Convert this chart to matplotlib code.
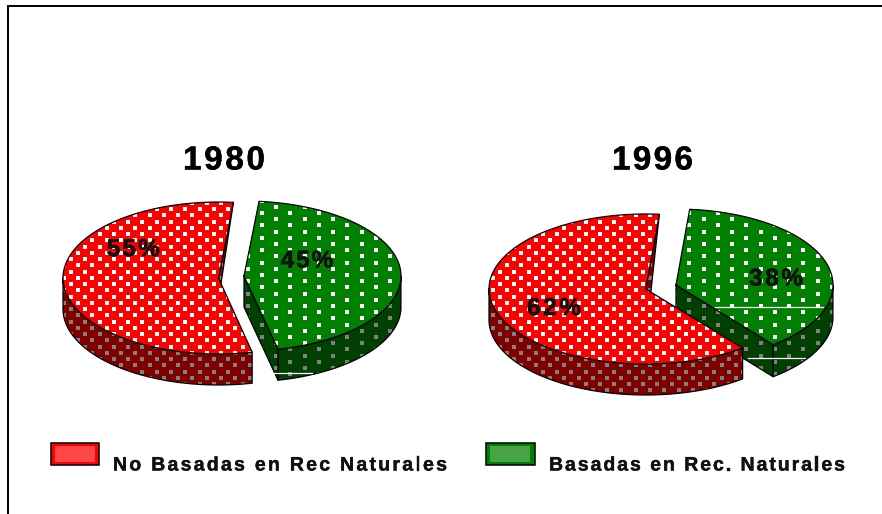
import numpy as np
import matplotlib
matplotlib.use("Agg")
import matplotlib.pyplot as plt
import matplotlib.patheffects as pe
from matplotlib.font_manager import findfont, get_font
from matplotlib.ft2font import LoadFlags
from matplotlib.path import Path
from matplotlib.patches import PathPatch, Rectangle
from matplotlib.text import Text
from matplotlib.transforms import Bbox, IdentityTransform

years = ["1980", "1996"]
categories = ["No Basadas en Rec Naturales", "Basadas en Rec. Naturales"]
red_share = [55, 62]
green_share = [45, 38]

FONT = "Liberation Sans"
RED, DRED = "#ff0000", "#800000"
GREEN, DGREEN = "#008000", "#004000"
GREY = "#808080"

fig = plt.figure(figsize=(8.82, 5.14), dpi=100)
ax = fig.add_axes([0, 0, 1, 1])
ax.set_xlim(0, 882)
ax.set_ylim(514, 0)
ax.axis("off")

ax.plot([8, 8, 882], [514, 6, 6], color="black", lw=1.4, solid_joinstyle="miter")


class SpacedText(Text):
    """One text object whose letters are spread to fill a given width in pixels."""

    def __init__(self, x, y, text, width_px, stroke=0.0, **kw):
        super().__init__(x, y, text, ha="left", va="baseline", **kw)
        self._width_px = width_px
        self._stroke = stroke

    def _advances(self):
        fp = self.get_fontproperties()
        font = get_font(findfont(fp))
        font.set_size(fp.get_size_in_points(), self.get_figure().dpi)
        s = self.get_text()
        pos = []
        for i in range(len(s) + 1):
            font.set_text(s[:i] + "|", 0.0, flags=LoadFlags.NO_HINTING)
            pos.append(font.get_width_height()[0] / 64.0)
        pos = np.array(pos) - pos[0]
        track = (self._width_px - pos[-1]) / max(len(s) - 1, 1)
        return pos + track * np.arange(len(s) + 1)

    def draw(self, renderer):
        x0, y0 = ax.transData.transform((self._x, self._y))
        for ch, dx in zip(self.get_text(), self._advances()):
            if ch == " ":
                continue
            t = Text(x0 + dx, y0, ch, ha="left", va="baseline",
                     fontproperties=self.get_fontproperties(), color=self.get_color(),
                     transform=IdentityTransform())
            if self._stroke:
                t.set_path_effects([pe.withStroke(linewidth=self._stroke,
                                                  foreground=self.get_color())])
            t.set_figure(self.get_figure())
            t.draw(renderer)

    def get_window_extent(self, renderer=None, dpi=None):
        x0, y0 = ax.transData.transform((self._x, self._y))
        h = self.get_fontproperties().get_size_in_points() * self.get_figure().dpi / 72
        return Bbox.from_extents(x0, y0 - 0.2 * h, x0 + self._width_px, y0 + 0.75 * h)


def spaced(x, y, s, width, size, colour="black", stroke=0.0, z=12):
    t = SpacedText(x, y, s, width, stroke=stroke, family=FONT, weight="bold", fontsize=size,
                   color=colour, zorder=z)
    ax.add_artist(t)
    return t


def rim(c, a, b, t0, t1, dy=0.0, n=160):
    t = np.radians(np.linspace(t0, t1, n))
    return np.column_stack([c[0] + a * np.cos(t), c[1] - b * np.sin(t) + dy])


def dots(poly, colour, px, py, ox, oy, z):
    path = Path(np.vstack([poly, poly[0]]), closed=True)
    patch = PathPatch(path, transform=ax.transData, fc="none", ec="none")
    ax.add_patch(patch)
    lo, hi = poly.min(0), poly.max(0)
    rows = np.arange(np.floor((lo[1] - oy) / py), np.ceil((hi[1] - oy) / py) + 1)
    xs, ys = [], []
    for r in rows:
        shift = ox + (px / 2 if int(r) % 2 else 0)
        k = np.arange(np.floor((lo[0] - shift) / px), np.ceil((hi[0] - shift) / px) + 1)
        xs.extend(shift + k * px)
        ys.extend([oy + r * py] * len(k))
    marker = np.array([[-1, -0.75], [1, -0.75], [1, 0.75], [-1, 0.75], [-1, -0.75]])
    sc = ax.scatter(xs, ys, s=8.3, c=colour, marker=marker, linewidths=0, zorder=z)
    sc.set_clip_path(patch)


def shape(poly, fc, colour, pattern, z):
    ax.fill(poly[:, 0], poly[:, 1], fc=fc, ec="none", zorder=z)
    dots(poly, colour, *pattern, z + 0.1)
    closed = np.vstack([poly, poly[0]])
    ax.plot(closed[:, 0], closed[:, 1], color="black", lw=0.9, zorder=z + 0.2)


def wedge(c, a, b, depth, t0, t1, top, side, pattern, z, radial_face):
    s0, s1 = max(t0, 180), min(t1, 360)
    up = rim(c, a, b, s0, s1)
    low = rim(c, a, b, s1, s0, depth)
    shape(np.vstack([up, low]), side, GREY, pattern, z)
    edge = rim(c, a, b, t0, t0, n=1)[0]
    tip = np.array(c, float)
    if radial_face:
        face = np.array([tip, edge, edge + [0, depth], tip + [0, depth]])
    else:
        end = rim(c, a, b, t1, t1, n=1)[0]
        d = (end - tip) / np.linalg.norm(end - tip)
        face = np.array([tip, edge, tip + d * 6])
    shape(face, side, GREY, pattern, z + 1)
    poly = np.vstack([[tip], rim(c, a, b, t0, t1)])
    shape(poly, top, "white", pattern, z + 2)


RED_PAT = (14.3, 6.25, 171.0, 209.0)
GREEN_PAT = (28.5, 6.2, 276.0, 306.0)

geom = [
    dict(start=84.5, red=((218.5, 278), 155.5, 76, 31), green=((244, 276), 157, 75, 31),
         red_lab=(106.7, 256, 53), green_lab=(280.7, 267.5, 52.5), title=(183, 169.5, 82)),
    dict(start=85.0, red=((645.7, 289), 156.7, 75, 31), green=((676, 285), 157, 76, 32),
         red_lab=(527, 315, 54), green_lab=(749, 285.5, 54), title=(612, 169.5, 81)),
]

for yr, rv, gv, g in zip(years, red_share, green_share, geom):
    start = g["start"]
    r_end = start + 360 * rv / (rv + gv)
    gc, ga, gb, gd = g["green"]
    wedge(gc, ga, gb, gd, r_end, start + 360, GREEN, DGREEN, GREEN_PAT, 2, True)
    rc, ra, rb, rd = g["red"]
    wedge(rc, ra, rb, rd, start, r_end, RED, DRED, RED_PAT, 6, False)
    spaced(*g["title"][:2], yr, g["title"][2], 24, stroke=0.3)
    spaced(*g["red_lab"][:2], f"{rv}%", g["red_lab"][2], 17.5, "#111111", stroke=0.4)
    spaced(*g["green_lab"][:2], f"{gv}%", g["green_lab"][2], 17.5, "#111111", stroke=0.4)

for x0, x1, y in [(274, 312, 373), (715, 823, 307), (748, 805, 358)]:
    ax.plot([x0, x1], [y, y], color="white", lw=0.9, zorder=11)

for (x0, label, tx, width, fc) in [(50.5, categories[0], 113, 334, RED),
                                   (486, categories[1], 549, 296, GREEN)]:
    ax.add_patch(Rectangle((x0, 442.5), 48.5, 22.5, fc=fc, ec="black", lw=1.1, zorder=5))
    gx, gy = np.meshgrid(np.arange(x0 + 5, x0 + 44, 2.0), np.arange(446.5, 462, 2.0))
    ax.scatter(gx.ravel(), gy.ravel(), s=0.52, c="white", alpha=0.28, marker="s",
               linewidths=0, zorder=6)
    spaced(tx, 470.5, label, width, 14, "#111111", stroke=0.3)

fig.savefig("out.png", dpi=100)
